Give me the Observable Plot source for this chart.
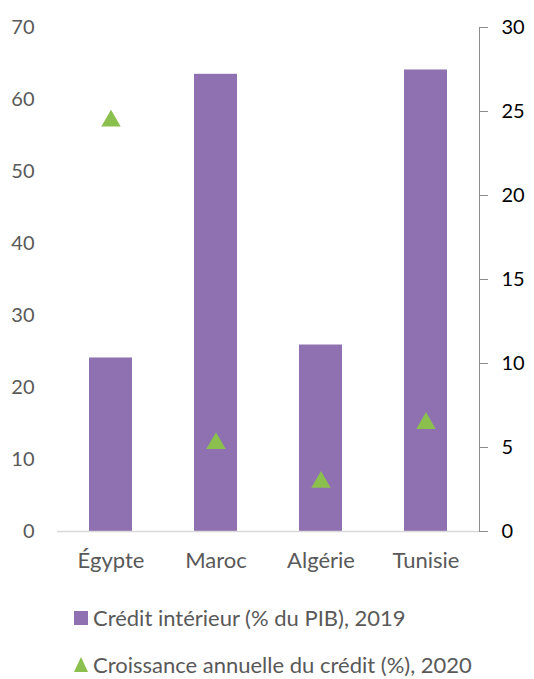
<!DOCTYPE html>
<html>
<head>
<meta charset="utf-8">
<script src="https://cdn.jsdelivr.net/npm/d3@7"></script>
<script src="https://cdn.jsdelivr.net/npm/@observablehq/plot@0.6"></script>
<style>
  body { margin: 0; background: #fff; font-family: Lato, sans-serif; }
  #chart svg { display: block; }
  #legend { padding-left: 74px; padding-top: 4px; color: #595959; font-size: 22px; }
  .row { display: flex; align-items: center; height: 47px; }
  .row svg { margin-right: 5px; flex: none; }
</style>
</head>
<body>
<div id="chart"></div>
<div id="legend"></div>
<script>
// Categories and series
const countries = ["Égypte", "Maroc", "Algérie", "Tunisie"];
const credit2019 = [24.1, 63.5, 25.9, 64.1];   // % of GDP (left axis)
const growth2020 = [24.6, 5.4, 3.1, 6.6];      // annual growth % (right axis)
const leftTicks = [0, 10, 20, 30, 40, 50, 60, 70];
const rightTicks = [0, 5, 10, 15, 20, 25, 30];
const seriesNames = ["Crédit intérieur (% du PIB), 2019", "Croissance annuelle du crédit (%), 2020"];

const barColor = "#8f71b1";
const dotColor = "#8cc04e";

// The right axis (0–30) shares the vertical extent of the left one (0–70)
const LEFT_MAX = 70, RIGHT_MAX = 30;
const k = LEFT_MAX / RIGHT_MAX;

const bars = countries.map((c, i) => ({country: c, value: credit2019[i]}));
const growth = countries.map((c, i) => ({country: c, value: growth2020[i], scaled: growth2020[i] * k}));

const chart = Plot.plot({
  width: 534,
  height: 590,
  marginLeft: 57,
  marginRight: 55,
  marginTop: 27,
  marginBottom: 59,
  style: {fontFamily: "Lato, sans-serif", fontSize: "20px", color: "#595959"},
  x: {domain: countries, paddingInner: 0.59, paddingOuter: 0.295, label: null},
  y: {domain: [0, LEFT_MAX], label: null},
  marks: [
    Plot.axisY(leftTicks, {anchor: "left", tickSize: 0, tickPadding: 23, label: null}),
    Plot.axisY(rightTicks.map(t => t * k), {
      anchor: "right", tickSize: 8, tickPadding: 14, label: null,
      stroke: "#8c8c8c", fill: "#000",
      tickFormat: d => String(Math.round(d / k))
    }),
    Plot.axisX({tickSize: 0, tickPadding: 21, fontSize: 22, label: null}),
    Plot.frame({anchor: "right", stroke: "#8c8c8c"}),
    Plot.barY(bars, {x: "country", y: "value", fill: barColor}),
    Plot.ruleY([0], {stroke: "#d9d9d9", strokeWidth: 1.5}),
    Plot.dot(growth, {x: "country", y: "scaled", symbol: "triangle", r: 7.2, fill: dotColor, stroke: null, dy: 2.7})
  ]
});
document.getElementById("chart").appendChild(chart);

// Legend below the chart
const legend = document.getElementById("legend");
seriesNames.forEach((name, i) => {
  const row = document.createElement("div");
  row.className = "row";
  const sym = i === 0
    ? `<svg width="14" height="14"><rect width="14" height="14" fill="${barColor}"/></svg>`
    : `<svg width="14" height="15"><polygon points="7,0 14,15 0,15" fill="${dotColor}"/></svg>`;
  row.innerHTML = sym + `<span>${name}</span>`;
  legend.appendChild(row);
});
</script>
</body>
</html>
